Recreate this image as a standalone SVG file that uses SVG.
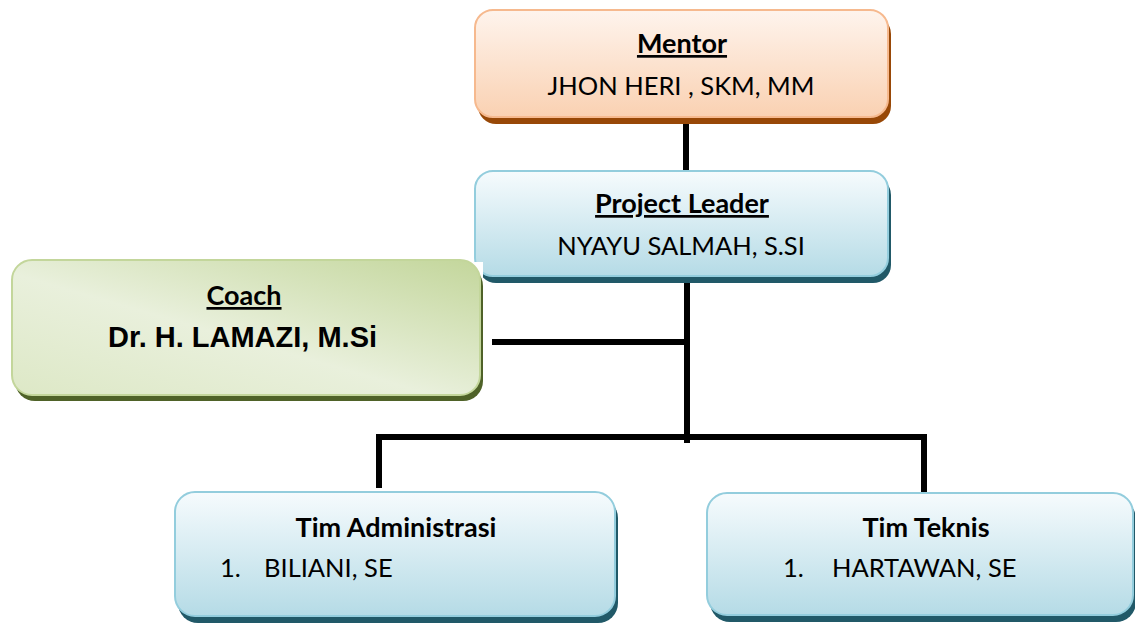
<svg xmlns="http://www.w3.org/2000/svg" width="1135" height="623" viewBox="0 0 1135 623">
  <defs>
    <linearGradient id="gOrange" x1="0" y1="0" x2="0" y2="1">
      <stop offset="0" stop-color="#fef4ed"/>
      <stop offset="1" stop-color="#fad1b2"/>
    </linearGradient>
    <linearGradient id="gBlue" x1="0" y1="0" x2="0" y2="1">
      <stop offset="0" stop-color="#f6fbfd"/>
      <stop offset="1" stop-color="#b5dbe6"/>
    </linearGradient>
    <linearGradient id="gGreen" x1="1" y1="0" x2="0" y2="1">
      <stop offset="0" stop-color="#c3d69b"/>
      <stop offset="0.55" stop-color="#e9f0dc"/>
      <stop offset="1" stop-color="#dde8c6"/>
    </linearGradient>
    <style>
      .cal { font-family: Lato, "Open Sans", "Liberation Sans", sans-serif; fill: #000; font-size: 25.5px; }
      .b { font-weight: bold; font-size: 27px; }
      .u { text-decoration: underline; }
      .conn { stroke: #000; stroke-width: 6; fill: none; }
    </style>
  </defs>

  <g id="connectors">
    <path class="conn" d="M686 122 V172"/>
    <path class="conn" d="M687 280 V443"/>
    <path class="conn" d="M492 342 H687"/>
    <path class="conn" d="M376 437 H927"/>
    <path class="conn" d="M379 434 V488"/>
    <path class="conn" d="M924 434 V492"/>
  </g>

  <g id="mentor">
    <rect x="478" y="16" width="413" height="108" rx="18" fill="#984807"/>
    <rect x="475" y="10" width="413" height="107" rx="18" fill="url(#gOrange)" stroke="#f6b98e" stroke-width="2"/>
    <text class="cal b u" x="682" y="53" text-anchor="middle">Mentor</text>
    <text class="cal" x="681" y="95" text-anchor="middle">JHON HERI , SKM, MM</text>
  </g>

  <g id="project-leader">
    <rect x="478" y="177" width="413" height="106" rx="18" fill="#215968"/>
    <rect x="475" y="171" width="413" height="105" rx="18" fill="url(#gBlue)" stroke="#93cddd" stroke-width="2"/>
    <text class="cal b u" x="682" y="213" text-anchor="middle">Project Leader</text>
    <text class="cal" x="681" y="255" text-anchor="middle">NYAYU SALMAH, S.SI</text>
  </g>

  <g id="coach">
    <rect x="473" y="262" width="10" height="26" fill="#ffffff"/>
    <rect x="15" y="266" width="468" height="135" rx="20" fill="#4f6228"/>
    <rect x="12" y="260" width="468" height="135" rx="20" fill="url(#gGreen)" stroke="#c3d69b" stroke-width="2"/>
    <text class="cal b u" x="244" y="305" text-anchor="middle">Coach</text>
    <text x="108" y="347" font-family="'Liberation Sans', Arial, sans-serif" font-weight="bold" font-size="29">Dr. H. LAMAZI, M.Si</text>
  </g>

  <g id="tim-administrasi">
    <rect x="178" y="498" width="440" height="125" rx="20" fill="#215968"/>
    <rect x="175" y="492" width="440" height="124" rx="20" fill="url(#gBlue)" stroke="#93cddd" stroke-width="2"/>
    <text class="cal b" x="396" y="537" text-anchor="middle">Tim Administrasi</text>
    <text class="cal" x="220" y="577">1.</text>
    <text class="cal" x="264" y="577">BILIANI, SE</text>
  </g>

  <g id="tim-teknis">
    <rect x="710" y="499" width="426" height="123" rx="20" fill="#215968"/>
    <rect x="707" y="493" width="426" height="122" rx="20" fill="url(#gBlue)" stroke="#93cddd" stroke-width="2"/>
    <text class="cal b" x="926" y="537" text-anchor="middle">Tim Teknis</text>
    <text class="cal" x="783" y="577">1.</text>
    <text class="cal" x="832" y="577">HARTAWAN, SE</text>
  </g>
</svg>
